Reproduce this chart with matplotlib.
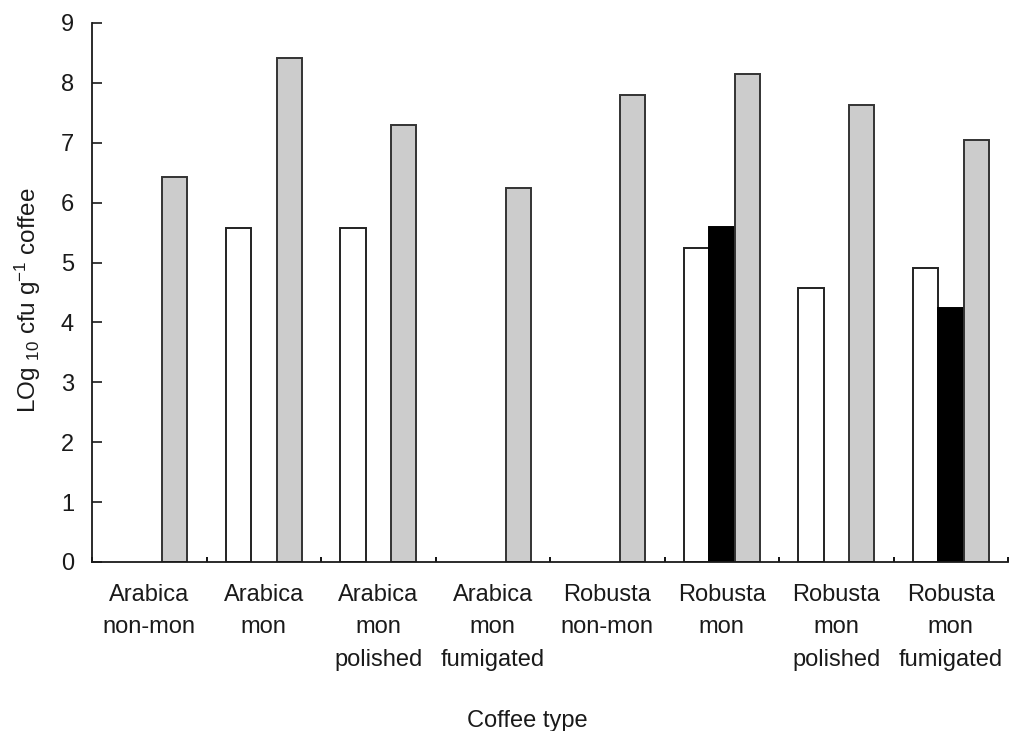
import numpy as np
import matplotlib
matplotlib.use("Agg")
import matplotlib.pyplot as plt

plt.rcParams['font.family'] = ['Liberation Sans', 'DejaVu Sans']
plt.rcParams['mathtext.fontset'] = 'custom'
plt.rcParams['mathtext.rm'] = 'Liberation Sans'
plt.rcParams['mathtext.it'] = 'Liberation Sans'

categories = ["Arabica\nnon-mon", "Arabica\nmon", "Arabica\nmon\npolished",
              "Arabica\nmon\nfumigated", "Robusta\nnon-mon", "Robusta\nmon",
              "Robusta\nmon\npolished", "Robusta\nmon\nfumigated"]
nan = np.nan
white_vals = [nan, 5.58, 5.58, nan, nan, 5.25, 4.57, 4.91]
black_vals = [nan, nan, nan, nan, nan, 5.59, nan, 4.24]
gray_vals = [6.42, 8.42, 7.30, 6.24, 7.79, 8.15, 7.63, 7.05]

x = np.arange(len(categories))
w = 0.222
fs = 17
ink = '#1a1a1a'

fig = plt.figure(figsize=(10.16, 7.31), dpi=100)
ax = fig.add_axes([0.0906, 0.2312, 0.9016, 0.7374])

ax.bar(x - w, white_vals, w, color='white', edgecolor='#222222', linewidth=1.4)
ax.bar(x, black_vals, w, color='black', edgecolor='black', linewidth=1.4)
ax.bar(x + w, gray_vals, w, color='#cccccc', edgecolor='#333333', linewidth=1.4)

ax.set_xlim(-0.5, len(categories) - 0.5)
ax.set_ylim(0, 9)
ax.set_yticks(range(10))
ax.set_xticks(x)
ax.set_xticklabels(categories, fontsize=fs, linespacing=1.6, va='top')
ax.set_xticks(np.arange(-0.5, len(categories), 1), minor=True)

ax.tick_params(axis='x', which='major', length=0, pad=16, colors=ink)
ax.tick_params(axis='x', which='minor', direction='in', length=3.5, width=1.3)
ax.tick_params(axis='y', direction='in', length=7, width=1.2, pad=13,
               labelsize=fs, colors=ink)

for s in ['top', 'right']:
    ax.spines[s].set_visible(False)
for s in ['left', 'bottom']:
    ax.spines[s].set_linewidth(1.3)
    ax.spines[s].set_color(ink)

ax.set_xlabel("Coffee type", fontsize=fs, color=ink)
ax.xaxis.set_label_coords(0.475, -0.275)
ax.set_ylabel(r"LOg $_{\mathregular{10}}$ cfu g$^{\mathregular{-1}}$ coffee",
              fontsize=17.5, color=ink)
ax.yaxis.set_label_coords(-0.054, 0.486)

fig.savefig("out.png", dpi=100)
